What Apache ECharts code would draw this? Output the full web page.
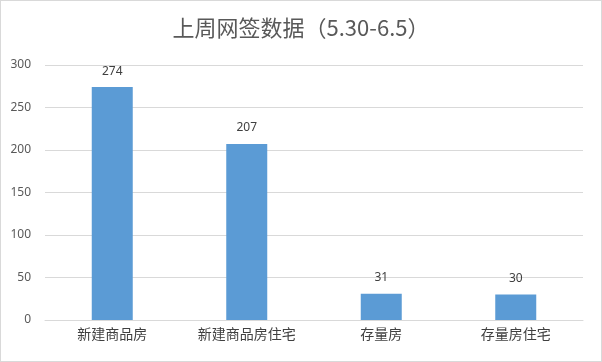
<!DOCTYPE html>
<html>
<head>
<meta charset="utf-8">
<script src="https://cdn.jsdelivr.net/npm/echarts@6/dist/echarts.min.js"></script>
<style>
html, body { margin: 0; padding: 0; background: #fff; }
#box { width: 600px; height: 360px; border: 1px solid #d9d9d9; }
</style>
</head>
<body>
<div id="box"></div>
<script>
var categories = ['新建商品房', '新建商品房住宅', '存量房', '存量房住宅'];
var values = [274, 207, 31, 30];
var yTicks = [0, 50, 100, 150, 200, 250, 300];

var myChart = echarts.init(document.getElementById('box'));
var option = {
    animation: false,
    title: {
        text: '上周网签数据（5.30-6.5）',
        left: 'center',
        top: 11,
        textStyle: {
            fontFamily: 'Noto Sans CJK SC',
            fontSize: 22,
            fontWeight: 'normal',
            color: '#595959'
        }
    },
    grid: { left: 44, right: 18, top: 64, bottom: 41 },
    xAxis: {
        type: 'category',
        data: categories,
        axisTick: { show: false },
        axisLine: { lineStyle: { color: '#d9d9d9' } },
        axisLabel: {
            fontFamily: 'Noto Sans CJK SC',
            fontSize: 14,
            color: '#404040',
            margin: 7
        }
    },
    yAxis: {
        type: 'value',
        min: yTicks[0],
        max: yTicks[yTicks.length - 1],
        interval: 50,
        axisLine: { show: false },
        axisTick: { show: false },
        splitLine: { lineStyle: { color: '#d9d9d9' } },
        axisLabel: {
            fontFamily: 'Noto Sans',
            fontSize: 12,
            color: '#595959',
            margin: 14
        }
    },
    series: [{
        type: 'bar',
        data: values,
        barWidth: 41,
        itemStyle: { color: '#5b9bd5' },
        label: {
            show: true,
            position: 'top',
            distance: 10,
            fontFamily: 'Noto Sans',
            fontSize: 12,
            color: '#404040'
        }
    }]
};
myChart.setOption(option);
</script>
</body>
</html>
